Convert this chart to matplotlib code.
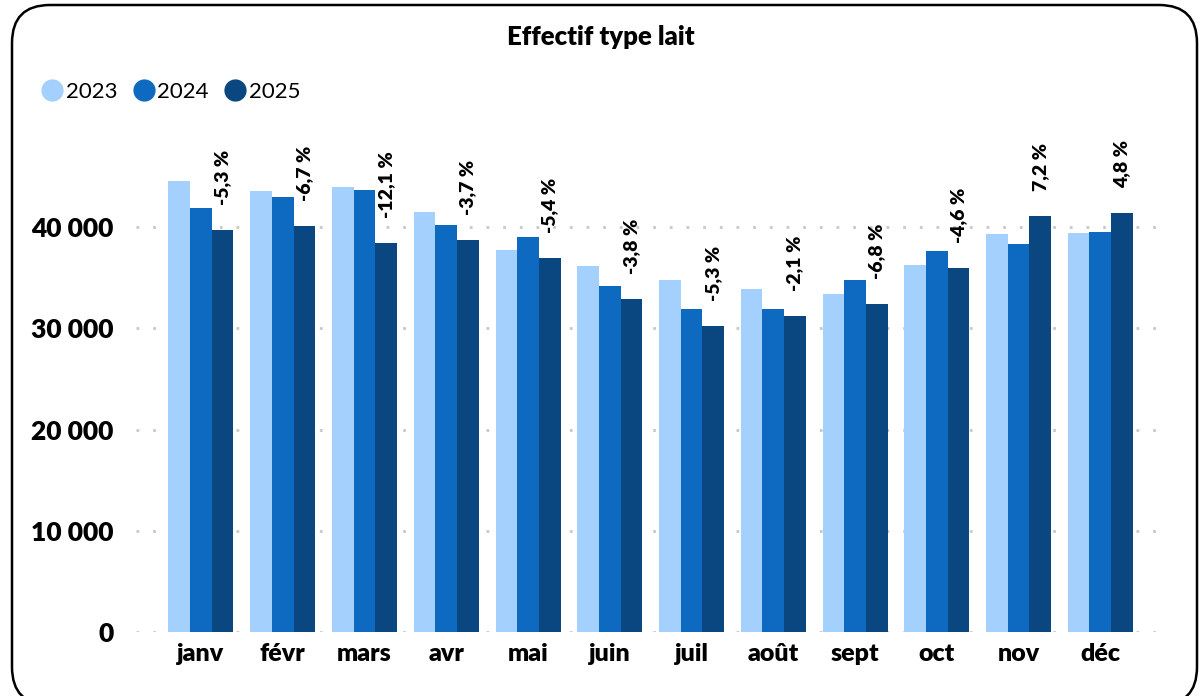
import numpy as np
import matplotlib.pyplot as plt
from matplotlib.patches import FancyBboxPatch
from matplotlib.lines import Line2D

# data
months = ["janv", "févr", "mars", "avr", "mai", "juin",
          "juil", "août", "sept", "oct", "nov", "déc"]
v2023 = [44550, 43550, 43950, 41480, 37730, 36150, 34770, 33880, 33380, 36250, 39310, 39410]
v2024 = [41880, 42960, 43650, 40200, 39010, 34170, 31900, 31900, 34770, 37630, 38320, 39510]
v2025 = [39700, 40100, 38420, 38720, 36900, 32890, 30220, 31210, 32400, 35950, 41090, 41400]
pct = ["-5,3 %", "-6,7 %", "-12,1 %", "-3,7 %", "-5,4 %", "-3,8 %",
       "-5,3 %", "-2,1 %", "-6,8 %", "-4,6 %", "7,2 %", "4,8 %"]
years = ["2023", "2024", "2025"]
colors = ["#a3d0fd", "#0e6ac0", "#0a4781"]

plt.rcParams["font.family"] = ["Lato", "DejaVu Sans"]

W, H = 1201, 696
fig = plt.figure(figsize=(W / 100, H / 100), dpi=100)

# rounded frame, drawn in pixel coordinates
bg = fig.add_axes([0, 0, 1, 1])
bg.set_xlim(0, W)
bg.set_ylim(H, 0)
bg.axis("off")
bg.add_patch(FancyBboxPatch((12, 5), 1185, 700, boxstyle="round,pad=0,rounding_size=38",
                            fc="white", ec="black", lw=1.8))

ax = fig.add_axes([136 / W, 1 - 632 / H, (1160 - 136) / W, (632 - 136) / H])
ax.patch.set_alpha(0)

x = np.arange(len(months))
w = 0.265
for i, (vals, c, lab) in enumerate(zip([v2023, v2024, v2025], colors, years)):
    ax.bar(x + (i - 1) * w, vals, width=w, color=c, label=lab, zorder=2)

for xi, v, t in zip(x, v2025, pct):
    ax.annotate(t, (xi + w, v), xytext=(0, 18), textcoords="offset points",
                rotation=90, ha="center", va="bottom", fontsize=14, fontweight="heavy")

ax.set_xlim(-0.795, 11.73)
ax.set_ylim(0, 49000)
ax.set_yticks([0, 10000, 20000, 30000, 40000])
ax.set_yticklabels(["0", "10 000", "20 000", "30 000", "40 000"])
ax.set_xticks(x)
ax.set_xticklabels(months)
ax.tick_params(axis="both", length=0)
ax.tick_params(axis="y", pad=16, labelsize=19)
ax.tick_params(axis="x", pad=8, labelsize=18)
for lbl in ax.get_xticklabels() + ax.get_yticklabels():
    lbl.set_fontweight("heavy")
ax.grid(axis="y", color="#c8c8c8", linestyle=(0, (1, 5)), linewidth=2, zorder=1)
for s in ax.spines.values():
    s.set_visible(False)

fig.text(601 / W, 1 - 37 / H, "Effectif type lait", ha="center", va="center",
         fontsize=18.5, fontweight="heavy")

handles = [Line2D([], [], marker="o", ls="", markersize=15, color=c) for c in colors]
fig.legend(handles, years, loc="center left", bbox_to_anchor=(30 / W, 1 - 92 / H),
           ncol=3, frameon=False, fontsize=16, handletextpad=0.0, columnspacing=0.6,
           borderaxespad=0, handlelength=1.2)

fig.savefig("out.png", dpi=100)
